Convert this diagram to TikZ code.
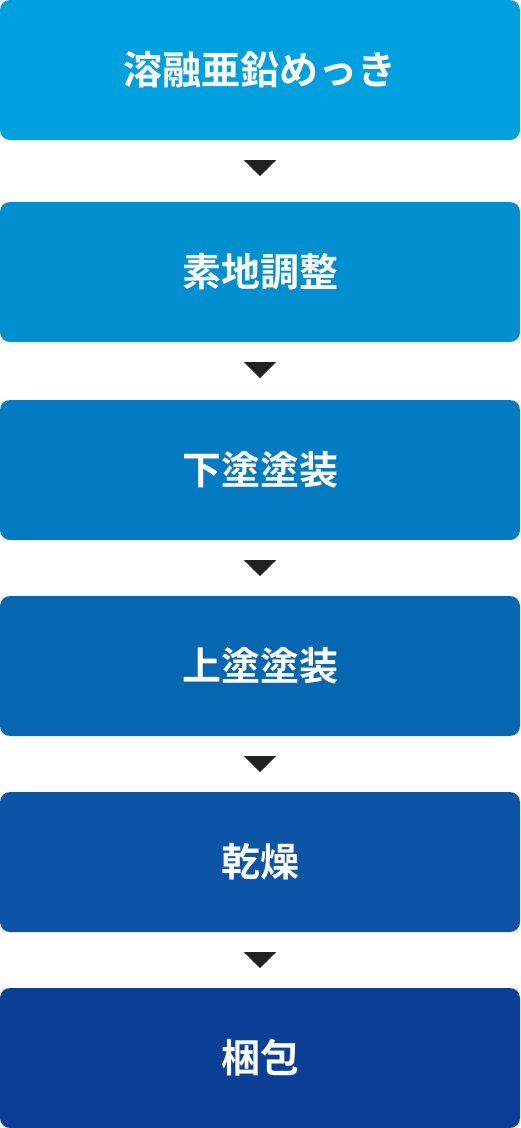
\documentclass[tikz,border=0pt]{standalone}
\usepackage{fontspec}
\newfontfamily\jp{Noto Sans CJK JP}[BoldFont={Noto Sans CJK JP Bold}]
\usetikzlibrary{calc}
\definecolor{cA}{RGB}{0,160,222}
\definecolor{cB}{RGB}{1,143,208}
\definecolor{cC}{RGB}{3,123,194}
\definecolor{cD}{RGB}{6,103,176}
\definecolor{cE}{RGB}{11,84,166}
\definecolor{cF}{RGB}{11,63,150}
\definecolor{tri}{RGB}{34,34,34}
\tikzset{
  stepbox/.style={rounded corners=10pt, minimum width=520pt, minimum height=140pt,
    inner sep=0pt, text=white, font=\jp\bfseries\fontsize{39}{46}\selectfont},
  tribox/.style={fill=tri}
}
\newcommand{\downtri}[1]{\fill[tribox] ($(#1.south)+(-16pt,-20pt)$) -- ++(32pt,0) -- ++(-16pt,-16pt) -- cycle;}
\begin{document}
\begin{tikzpicture}[x=1pt,y=-1pt]
\useasboundingbox (0,0) rectangle (520,1128);
\node[stepbox, fill=cA] (s1) at (260,70) {溶融亜鉛めっき};
\node[stepbox, fill=cB] (s2) at (260,272) {素地調整};
\node[stepbox, fill=cC] (s3) at (260,470) {下塗塗装};
\node[stepbox, fill=cD] (s4) at (260,666) {上塗塗装};
\node[stepbox, fill=cE] (s5) at (260,862) {乾燥};
\node[stepbox, fill=cF] (s6) at (260,1058) {梱包};
\downtri{s1}
\downtri{s2}
\downtri{s3}
\downtri{s4}
\downtri{s5}
\end{tikzpicture}
\end{document}
